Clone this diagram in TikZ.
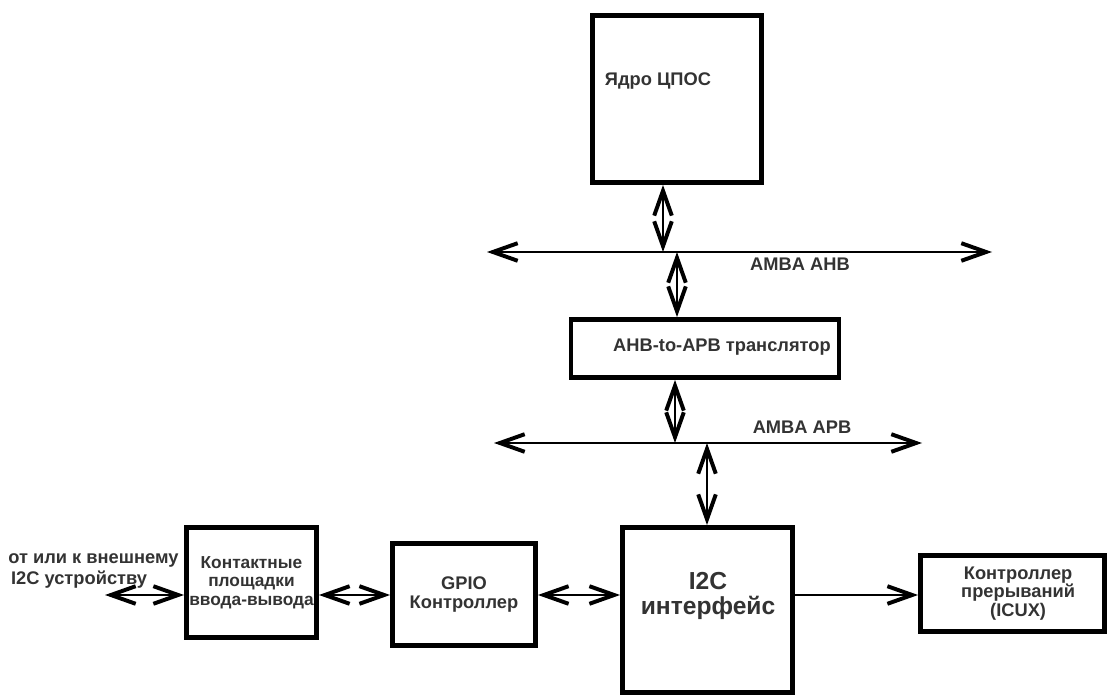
\documentclass[tikz,border=0pt]{standalone}
\usepackage{fontspec}
\setmainfont{Liberation Sans}
\usetikzlibrary{arrows.meta}

\begin{document}
\begin{tikzpicture}[
    x=0.025cm, y=-0.025cm,
    font=\bfseries\fontsize{13}{13}\selectfont,
    >={Straight Barb[length=6.2mm, width=4.4mm, line width=2.8pt]},
    block/.style={rectangle, draw=black, line width=3.4pt, fill=white, inner sep=2pt, align=center, text=black!80},
    txt/.style={inner sep=0pt, align=center, text=black!80},
    bus/.style={<->, line width=1.4pt},
    link/.style={<->, line width=0.9pt}
]
\useasboundingbox (0,0) rectangle (1107,695);

% Blocks
\node[block, minimum width=4.225cm, minimum height=4.175cm] (dsp) at (677,99) {};
\node[txt] (dsptext) at (658,81) {Ядро ЦПОС};

\node[block, minimum width=6.7cm, minimum height=1.45cm] (trans) at (705,348.5) {};
\node[txt] (transtext) at (722,347) {AHB-to-APB транслятор};

\node[block, minimum width=4.25cm, minimum height=4.125cm] (i2c) at (707.5,610) {};
\node[txt, font=\bfseries\fontsize{17.5}{18}\selectfont] (i2ctext) at (708,596) {I2C\\интерфейс};

\node[block, minimum width=3.575cm, minimum height=2.55cm] (gpio) at (464,594.5) {GPIO\\Контроллер};
\node[block, minimum width=3.05cm, minimum height=2.75cm, font=\bfseries\fontsize{12.3}{13}\selectfont] (pads) at (251.5,582.5) {Контактные\\площадки\\ввода-вывода};
\node[block, minimum width=4.6cm, minimum height=1.9cm] (icux) at (1012.5,593.5) {\hspace{8pt}Контроллер\\\hspace{8pt}прерываний\\\hspace{8pt}(ICUX)};

\node[txt, align=left, anchor=west, font=\bfseries\fontsize{13}{14.5}\selectfont] (extlbl) at (8,571) {от или к внешнему\\\hspace{2pt}I2C устройству};

% Buses
\coordinate (ahbL) at (487,252);
\coordinate (ahbR) at (992,252);
\coordinate (apbL) at (494,443);
\coordinate (apbR) at (922,443);
\draw[bus] (ahbL) -- (ahbR);
\draw[bus] (apbL) -- (apbR);
\node[txt] (ahblbl) at (800,264) {AMBA AHB};
\node[txt] (apblbl) at (802,427) {AMBA APB};

% Bus taps
\coordinate (ahbA) at (663,252);
\coordinate (ahbB) at (677,252);
\coordinate (apbA) at (675,443);
\coordinate (apbB) at (707,443);
\coordinate (ext) at (105,595);

\draw[link] (dsp.south -| ahbA) -- (ahbA);
\draw[link] (ahbB) -- (ahbB |- trans.north);
\draw[link] (trans.south -| apbA) -- (apbA);
\draw[link] (apbB) -- (apbB |- i2c.north);

% Chain to the external device
\draw[link] (ext) -- (ext -| pads.west);
\draw[link] (pads.east |- ext) -- (ext -| gpio.west);
\draw[link] (gpio.east |- ext) -- (ext -| i2c.west);
\draw[->, line width=0.9pt] (i2c.east |- ext) -- (ext -| icux.west);

\end{tikzpicture}
\end{document}
